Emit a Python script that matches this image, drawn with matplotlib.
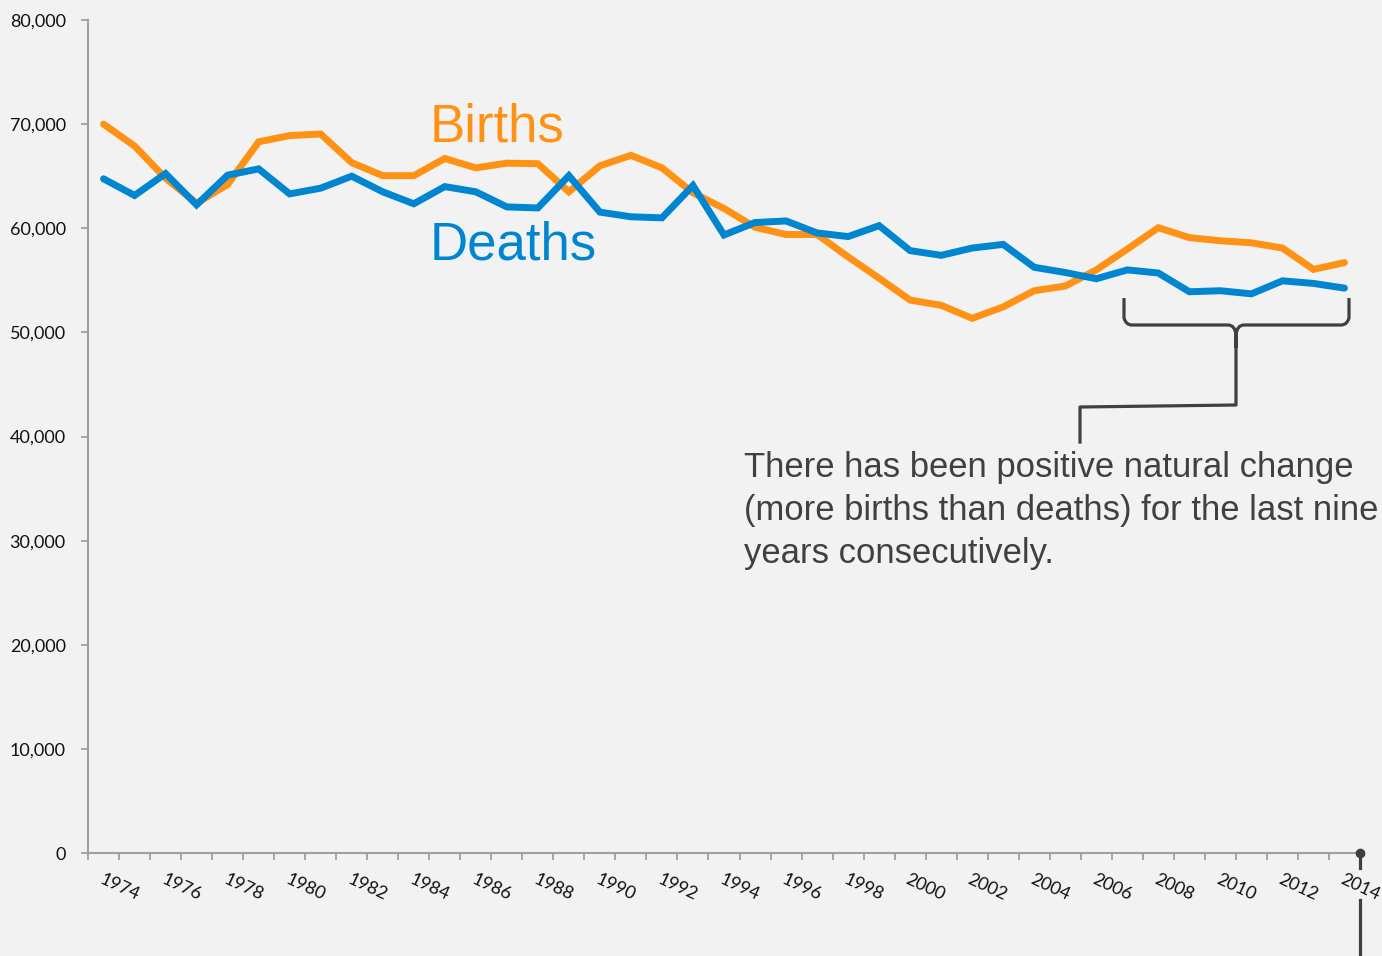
import numpy as np
import matplotlib
matplotlib.use('Agg')
import matplotlib.pyplot as plt
from matplotlib.lines import Line2D
from matplotlib.path import Path
from matplotlib.patches import PathPatch

years = list(range(1974, 2015))
births = [70000, 67900, 64800, 62400, 64200, 68300, 68900, 69050, 66300, 65050,
          65050, 66700, 65800, 66250, 66200, 63500, 66000, 67000, 65800, 63400,
          61900, 60100, 59400, 59400, 57250, 55200, 53100, 52600, 51350, 52450,
          54000, 54450, 56000, 58000, 60050, 59100, 58800, 58600, 58100, 56050,
          56700]
deaths = [64750, 63150, 65250, 62250, 65100, 65700, 63300, 63850, 65000, 63500,
          62350, 64000, 63500, 62050, 61950, 65050, 61550, 61100, 61000, 64100,
          59350, 60550, 60700, 59550, 59200, 60250, 57850, 57400, 58100, 58450,
          56250, 55750, 55150, 56000, 55700, 53900, 54000, 53700, 54950, 54700,
          54250]
yticks = np.arange(0, 80001, 10000)

W, H = 1382, 956
bg = '#F2F2F2'
orange = '#FF9214'
blue = '#0085D0'
dark = '#404040'
axgrey = '#A0A0A0'

plt.rcParams['font.family'] = ['Lato', 'DejaVu Sans']
fig = plt.figure(figsize=(W/100, H/100), dpi=100, facecolor=bg)
ax = fig.add_axes([88/W, 1-853/H, (1360-88)/W, (853-20)/H])
ax.set_facecolor(bg)

x = np.arange(len(years))
ax.plot(x, births, color=orange, lw=5, solid_capstyle='round', solid_joinstyle='miter', zorder=3)
ax.plot(x, deaths, color=blue, lw=5, solid_capstyle='round', solid_joinstyle='miter', zorder=4)

ax.set_xlim(-0.5, len(years)-0.5)
ax.set_ylim(0, 80000)
for s in ['top', 'right']:
    ax.spines[s].set_visible(False)
for s in ['left', 'bottom']:
    ax.spines[s].set_color(axgrey)
    ax.spines[s].set_linewidth(1.5)

ax.set_yticks(yticks)
ax.set_yticklabels(['{:,}'.format(v) for v in yticks])
ax.tick_params(axis='y', length=5, width=1.3, color=axgrey, pad=11, labelsize=13, labelcolor='#111111')

# category boundaries as major ticks, labels at centres as minor ticks
ax.set_xticks(np.arange(-0.5, len(years), 1.0))
ax.set_xticklabels([])
ax.tick_params(axis='x', which='major', length=5, width=1.3, color=axgrey)
ax.set_xticks(x[::2], minor=True)
ax.set_xticklabels([str(y) for y in years[::2]], minor=True)
ax.tick_params(axis='x', which='minor', length=0, pad=13, labelsize=13, labelcolor='#111111')
for lab in ax.get_xticklabels(minor=True):
    lab.set_rotation(-25)
    lab.set_ha('left')
    lab.set_va('top')
    lab.set_rotation_mode('anchor')

# series labels
def fx(px):
    return px / W

def fy(py):
    return 1 - py / H

fig.text(fx(430), fy(141), 'Births', color=orange, fontsize=38,
         family='Liberation Sans', va='baseline', ha='left')
fig.text(fx(430), fy(260), 'Deaths', color=blue, fontsize=38,
         family='Liberation Sans', va='baseline', ha='left')

note = ['There has been positive natural change',
        '(more births than deaths) for the last nine',
        'years consecutively.']
for i, line in enumerate(note):
    fig.text(fx(744), fy(477 + 43*i), line, color=dark, fontsize=24.9,
             family='Liberation Sans', va='baseline', ha='left')

# brace over the last nine years
bx0, bx1, bxc = 1124, 1349, 1236
verts = [(bx0, 298), (bx0, 318), (bx0 + 2, 325), (bx0 + 8, 325),
         (bxc - 8, 325), (bxc - 1, 325), (bxc, 335), (bxc, 348),
         (bxc, 335), (bxc + 1, 325), (bxc + 8, 325),
         (bx1 - 8, 325), (bx1 - 2, 325), (bx1, 318), (bx1, 298)]
codes = [Path.MOVETO, Path.LINETO, Path.CURVE3, Path.CURVE3,
         Path.LINETO, Path.CURVE3, Path.CURVE3, Path.LINETO,
         Path.LINETO, Path.CURVE3, Path.CURVE3,
         Path.LINETO, Path.CURVE3, Path.CURVE3, Path.LINETO]
fverts = [(fx(a), fy(b)) for a, b in verts]
fig.patches.append(PathPatch(Path(fverts, codes), transform=fig.transFigure,
                             fill=False, edgecolor=dark, lw=2.3))
leader = [(bxc, 340), (bxc, 405), (1080, 407), (1080, 442)]
fig.lines.append(Line2D([fx(a) for a, b in leader], [fy(b) for a, b in leader],
                        transform=fig.transFigure, color=dark, lw=2.3))

# marker at the end of the axis
fig.lines.append(Line2D([fx(1360)], [fy(853)], transform=fig.transFigure,
                        marker='o', ms=6, color=dark, lw=0))
fig.lines.append(Line2D([fx(1360), fx(1360)], [fy(853), fy(868)],
                        transform=fig.transFigure, color=dark, lw=2.3))
fig.lines.append(Line2D([fx(1360), fx(1360)], [fy(900), fy(956)],
                        transform=fig.transFigure, color=dark, lw=2.3))

fig.savefig('out.png', dpi=100, facecolor=bg)
